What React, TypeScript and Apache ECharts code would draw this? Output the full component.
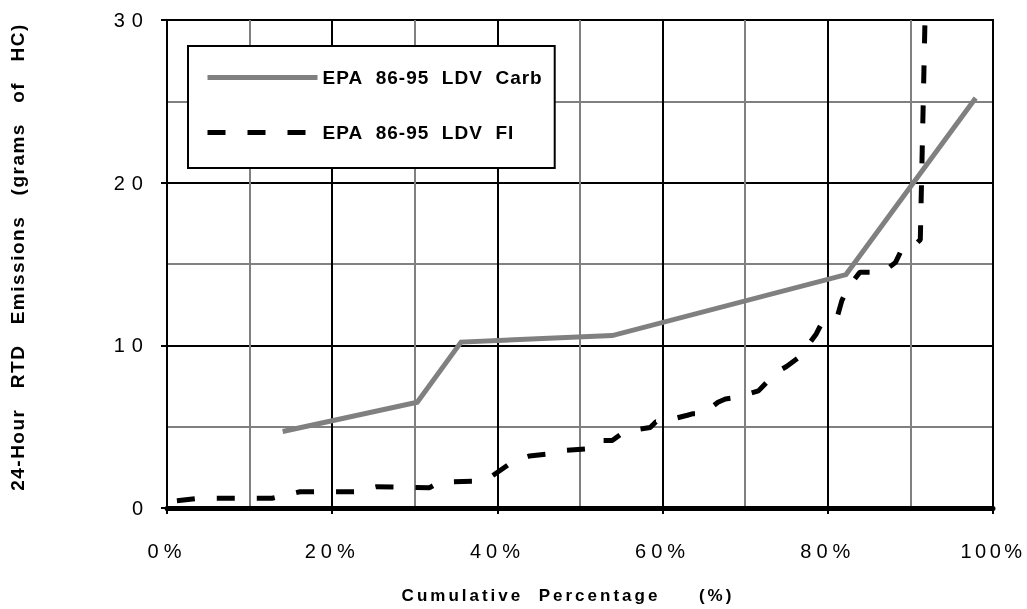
import React, { useEffect, useRef } from "react";
import * as echarts from "echarts";

// Cumulative percentage (x, %) and 24-hour RTD emissions (y, grams of HC)
const carbPct = [14.0, 30.3, 35.6, 53.9, 82.2, 97.9];
const carbHC = [4.7, 6.5, 10.2, 10.6, 14.35, 25.2];

const fiPct = [
  1.2, 4.0, 12.7, 16.1, 22.8, 25.3, 31.8, 33.0, 37.7, 39.3, 42.0, 43.9, 46.7,
  48.4, 51.2, 52.2, 53.9, 55.4, 58.5, 59.2, 59.9, 63.0, 63.7, 64.9, 66.7, 67.6,
  69.0, 71.6, 73.8, 75.0, 76.6, 78.6, 79.3, 80.2, 81.2, 81.7, 82.5, 83.9, 86.7,
  88.2, 89.1, 90.8, 91.2, 91.8,
];
const fiHC = [
  0.45, 0.6, 0.6, 1.0, 1.0, 1.3, 1.25, 1.6, 1.65, 1.95, 2.9, 3.2, 3.35, 3.55,
  3.65, 4.15, 4.15, 4.7, 4.95, 5.3, 5.3, 5.7, 5.8, 5.8, 6.5, 6.7, 6.8, 7.2,
  8.35, 8.7, 9.3, 10.7, 11.4, 11.65, 11.85, 12.75, 13.6, 14.5, 14.5, 15.1,
  16.05, 16.3, 16.5, 30.8,
];

const NB = "\u00a0";
const carbName = `EPA${NB}${NB}86-95${NB}${NB}LDV${NB}${NB}Carb`;
const fiName = `EPA${NB}${NB}86-95${NB}${NB}LDV${NB}${NB}FI`;
const xTitle = `Cumulative${NB}${NB}Percentage${NB}${NB}${NB}${NB}${NB}(%)`;
const yTitle = ["24-Hour", "RTD", "Emissions", "(grams", "of", "HC)"].join(
  NB.repeat(3)
);

const FONT = "'Liberation Sans', Arial, sans-serif";

const zip = (xs: number[], ys: number[]) => xs.map((x, i) => [x, ys[i]]);

// Letter spacing (px) for the chart's text, keyed by what the text says
function spacingFor(text: string): number {
  if (/^\d{3}%$/.test(text)) return 3.5;
  if (/^\d+%$/.test(text)) return 5;
  if (/^\d+$/.test(text)) return 7;
  if (text === xTitle) return 3;
  if (text === yTitle) return 1.5;
  if (text === carbName || text === fiName) return 1;
  return 0;
}

export default function App() {
  const ref = useRef<HTMLDivElement>(null);

  useEffect(() => {
    if (!ref.current) return;
    const chart = echarts.init(ref.current, undefined, { renderer: "svg" });

    const axisCommon = {
      type: "value" as const,
      axisLine: { show: true, onZero: false, lineStyle: { color: "#000", width: 2 } },
      axisTick: { show: true, inside: false, length: 6, lineStyle: { color: "#000", width: 2 } },
      splitLine: { show: true, lineStyle: { color: "#000", width: 2 } },
      minorTick: { show: false, splitNumber: 2 },
      minorSplitLine: { show: true, lineStyle: { color: "#808080", width: 2 } },
    };

    chart.setOption({
      animation: false,
      textStyle: { fontFamily: FONT },
      grid: {
        left: 167,
        right: 34,
        top: 20,
        bottom: 99,
        show: true,
        borderColor: "#000",
        borderWidth: 2,
        containLabel: false,
      },
      legend: {
        orient: "vertical",
        left: 188,
        top: 46,
        padding: [22, 33, 26, 17],
        itemGap: 36,
        itemWidth: 110,
        itemHeight: 14,
        selectedMode: false,
        backgroundColor: "#fff",
        borderColor: "#000",
        borderWidth: 2,
        borderRadius: 0,
        itemStyle: { opacity: 0 },
        lineStyle: { width: "inherit" },
        textStyle: { fontSize: 19, fontWeight: "bold", color: "#000", fontFamily: FONT },
        data: [carbName, fiName],
      },
      xAxis: {
        ...axisCommon,
        min: 0,
        max: 100,
        interval: 20,
        axisLine: { show: true, onZero: false, lineStyle: { color: "#000", width: 5 } },
        axisLabel: {
          formatter: "{value}%",
          fontSize: 20,
          color: "#000",
          margin: 33,
          fontFamily: FONT,
        },
        name: xTitle,
        nameLocation: "middle",
        nameGap: 79,
        nameTextStyle: {
          fontSize: 17,
          fontWeight: "bold",
          color: "#000",
          fontFamily: FONT,
          padding: [0, 24, 0, 0],
        },
      },
      yAxis: {
        ...axisCommon,
        min: 0,
        max: 30,
        interval: 10,
        axisLabel: { fontSize: 20, color: "#000", margin: 17, fontFamily: FONT },
        name: yTitle,
        nameLocation: "middle",
        nameGap: 140,
        nameTextStyle: {
          fontSize: 19,
          fontWeight: "bold",
          color: "#000",
          fontFamily: FONT,
          padding: [0, 0, 0, 14],
        },
      },
      series: [
        {
          type: "line",
          name: carbName,
          data: zip(carbPct, carbHC),
          symbol: "none",
          color: "#808080",
          lineStyle: { color: "#808080", width: 5, cap: "butt", join: "miter" },
          z: 3,
        },
        {
          type: "line",
          name: fiName,
          data: zip(fiPct, fiHC),
          symbol: "none",
          clip: false,
          color: "#000",
          lineStyle: { color: "#000", width: 5, type: [18, 22], cap: "butt" },
          z: 4,
        },
      ],
    });

    // Widen the tracking of the axis labels, titles and legend entries
    ref.current.querySelectorAll("svg text").forEach((node) => {
      const ls = spacingFor((node.textContent || "").trim());
      if (ls) (node as SVGTextElement).style.letterSpacing = `${ls}px`;
    });

    return () => chart.dispose();
  }, []);

  return (
    <div
      ref={ref}
      style={{ position: "fixed", left: 0, top: 0, width: 1027, height: 609 }}
    />
  );
}
